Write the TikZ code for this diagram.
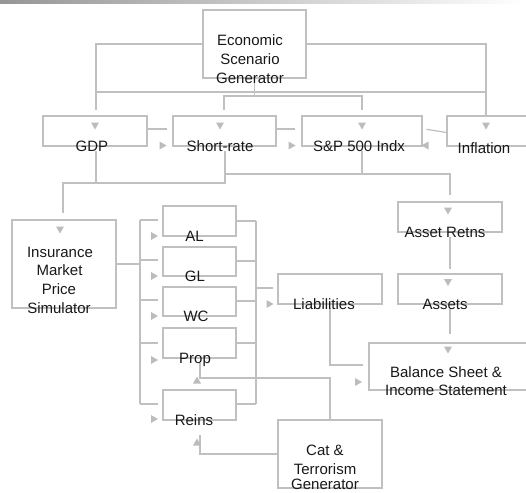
\documentclass[tikz,border=0pt]{standalone}
\usepackage{fontspec}
\setmainfont{Liberation Sans}
\definecolor{linegray}{RGB}{192,192,192}
\definecolor{tipgray}{RGB}{188,188,188}
\definecolor{inkgray}{RGB}{24,24,24}
\definecolor{bargray}{RGB}{150,150,150}
\begin{document}
\begin{tikzpicture}[x=1pt,y=-1pt,
  box/.style={draw=linegray, line width=1.25pt, inner sep=0pt, rectangle},
  lbl/.style={font=\fontsize{15}{18}\selectfont, text=inkgray, inner sep=0pt, anchor=base},
  wire/.style={draw=linegray, line width=1.25pt},
  tridown/.pic={\fill[tipgray] (-4,-3.5) -- (4,-3.5) -- (0,3.5) -- cycle;},
  triup/.pic={\fill[tipgray] (-4,3.5) -- (4,3.5) -- (0,-3.5) -- cycle;},
  triright/.pic={\fill[tipgray] (-3.5,-4) -- (-3.5,4) -- (3.5,0) -- cycle;},
  trileft/.pic={\fill[tipgray] (3.5,-4) -- (3.5,4) -- (-3.5,0) -- cycle;}]
\clip (0,0) rectangle (526,492);
% title bar
\shade[left color=bargray, right color=white] (0,0) rectangle (526,3.5);

% boxes
\node[box, minimum width=103pt, minimum height=68pt] (esg) at (254.5,44) {};
\node[box, minimum width=104pt, minimum height=30pt] (gdp) at (95,131) {};
\node[box, minimum width=103pt, minimum height=30pt] (srate) at (224.5,131) {};
\node[box, minimum width=120pt, minimum height=30pt] (snp) at (362,131) {};
\node[box, minimum width=113pt, minimum height=30pt] (infl) at (503.5,131) {};
\node[box, minimum width=104pt, minimum height=88pt] (ims) at (64,264) {};
\node[box, minimum width=73pt, minimum height=30pt] (al) at (199.5,221) {};
\node[box, minimum width=73pt, minimum height=29pt] (gl) at (199.5,261.5) {};
\node[box, minimum width=73pt, minimum height=29pt] (wc) at (199.5,301.5) {};
\node[box, minimum width=73pt, minimum height=30pt] (prop) at (199.5,343) {};
\node[box, minimum width=73pt, minimum height=30pt] (reins) at (199.5,405) {};
\node[box, minimum width=104pt, minimum height=30pt] (liab) at (330,289) {};
\node[box, minimum width=104pt, minimum height=30pt] (aret) at (450,217) {};
\node[box, minimum width=104pt, minimum height=30pt] (assets) at (450,289) {};
\node[box, minimum width=191pt, minimum height=47pt] (bal) at (464.5,366.5) {};
\node[box, minimum width=104pt, minimum height=68pt] (cat) at (330,454) {};

% generator fan-out
\draw[wire] (esg.west) -| (96,110);
\draw[wire] (esg.east) -| (486,116);
\draw[wire] (96,92) -- (486,92);
\draw[wire] (esg.south) -- (254.5,96);
\draw[wire] (224,110) -- (224,96) -- (362,96) -- (362,110);

% links along the top row
\draw[wire] (gdp.east |- 0,129) -- (167,129);
\draw[wire] (srate.east |- 0,129) -- (295,129);
\draw[wire] (infl.west |- 0,132.5) -- (426.5,129.3);

% feeds down to the simulator and asset returns
\draw[wire] (96,151) -- (96,183);
\draw[wire] (63,213) -- (63,183) -- (225,183) -- (225,151);
\draw[wire] (225,174) -- (450,174) -- (450,195);
\draw[wire] (362,151) -- (362,174);

% simulator to the lines of business
\draw[wire] (ims.east |- 0,264) -- (140,264);
\draw[wire] (140,220) -- (140,404);
\foreach \yy in {220,260,300,343,404} {
  \draw[wire] (140,\yy) -- (158,\yy);
}
\draw[wire] (al.east) -- (256,221);
\draw[wire] (gl.east |- 0,261) -- (256,261);
\draw[wire] (wc.east |- 0,301) -- (256,301);
\draw[wire] (prop.east) -- (256,343);
\draw[wire] (reins.east |- 0,404) -- (256,404);
\draw[wire] (256,221) -- (256,404);
\draw[wire] (256,288) -- (273,288);

% liabilities and assets into the statements
\draw[wire] (330,308) -- (330,365) -- (363,365);
\draw[wire] (450,237) -- (450,269);
\draw[wire] (450,309) -- (450,334);

% catastrophe generator
\draw[wire] (cat.north |- 0,420) -- (330,378) -- (200,378) -- (200,363);
\draw[wire] (cat.west |- 0,454) -- (200,454) -- (200,435);

% arrow tips
\foreach \xx/\yy in {95/126,220/126,362/126,486/126,60/230,448/211,448/282.5,448/350} {
  \pic at (\xx,\yy) {tridown};
}
\foreach \xx/\yy in {163/145.5,292/145.5,154.5/236,154.5/276,154.5/316,154.5/360,154.5/419,270/304,358.5/382} {
  \pic at (\xx,\yy) {triright};
}
\pic at (425,145.5) {trileft};
\pic at (197,380) {triup};
\pic at (197,442) {triup};

% labels
\node[lbl] (tEsgA) at (250,46) {Economic};
\node[lbl] (tEsgB) at (250,65) {Scenario};
\node[lbl] (tEsgC) at (250,83.5) {Generator};
\node[lbl] (tGdp) at (92,151.5) {GDP};
\node[lbl] (tSrate) at (220,151.5) {Short-rate};
\node[lbl] (tSnp) at (359,151.5) {S\&P 500 Indx};
\node[lbl] (tInfl) at (484,153.5) {Inflation};
\node[lbl] (tImsA) at (60,257) {Insurance};
\node[lbl] (tImsB) at (59.5,275.5) {Market};
\node[lbl] (tImsC) at (59,294.5) {Price};
\node[lbl] (tImsD) at (59,313) {Simulator};
\node[lbl] (tAl) at (194.5,241) {AL};
\node[lbl] (tGl) at (195,281) {GL};
\node[lbl] (tWc) at (196,321) {WC};
\node[lbl] (tProp) at (195,363) {Prop};
\node[lbl] (tReins) at (194,425) {Reins};
\node[lbl] (tLiab) at (324,309) {Liabilities};
\node[lbl] (tAret) at (445,237) {Asset Retns};
\node[lbl] (tAssets) at (445,309) {Assets};
\node[lbl] (tBalA) at (446,377) {Balance Sheet \&};
\node[lbl] (tBalB) at (446,395) {Income Statement};
\node[lbl] (tCatA) at (325,455) {Cat \&};
\node[lbl] (tCatB) at (325,474) {Terrorism};
\node[lbl] (tCatC) at (325,489) {Generator};
\end{tikzpicture}
\end{document}
